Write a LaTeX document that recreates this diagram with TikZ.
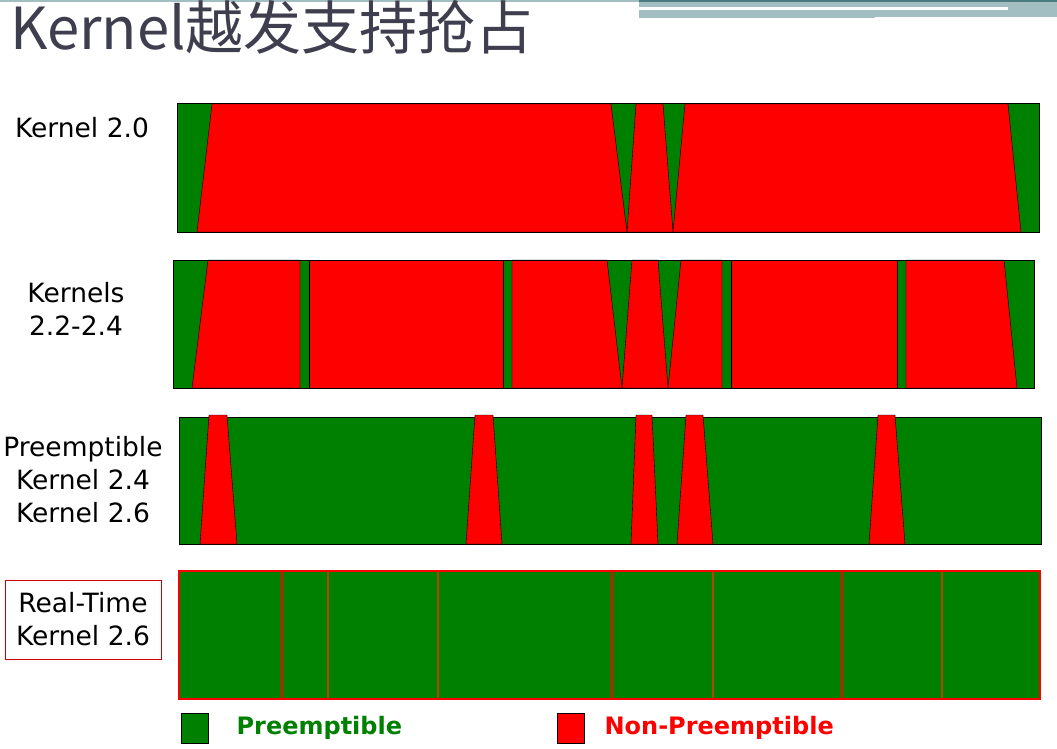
\documentclass[tikz,border=0pt]{standalone}
\usepackage{fontspec}
\setsansfont{DejaVu Sans}
\newfontfamily\cjkfont{Noto Sans CJK SC}
\usetikzlibrary{positioning}

\definecolor{pgreen}{RGB}{0,128,0}
\definecolor{npred}{RGB}{255,0,0}
\definecolor{rtbrown}{RGB}{180,70,0}
\definecolor{boxred}{RGB}{200,0,0}
\definecolor{titlegray}{RGB}{62,62,78}
\definecolor{bandlight}{RGB}{163,190,194}
\definecolor{banddark}{RGB}{74,124,128}

\tikzset{
  bar/.style={fill=pgreen,draw=black,line width=1pt},
  np/.style={fill=npred,draw=black,line width=0.4pt},
  lbl/.style={font=\sffamily\fontsize{26.5}{33}\selectfont,align=center,inner sep=0pt},
  key/.style={draw=black,line width=0.8pt,minimum width=27pt,minimum height=30pt,inner sep=0pt},
  keytext/.style={font=\sffamily\bfseries\fontsize{24}{24}\selectfont,inner sep=0pt}
}

\begin{document}
\begin{tikzpicture}[x=1pt,y=-1pt]
    \useasboundingbox (0,0) rectangle (1057,749);

    % header band top right
    \fill[bandlight] (0,0) rectangle (1057,2);
    \fill[bandlight] (639,0) rectangle (875,18);
    \fill[bandlight] (875,0) rectangle (1057,17);
    \fill[banddark] (639,0) rectangle (1057,2);
    \fill[white] (639,7) rectangle (1008,10);

    % title
    \node[anchor=base west,text=titlegray,inner sep=0pt] (title) at (10,50)
        {\cjkfont\fontsize{58}{58}\selectfont Kernel越发支持抢占};

    % row labels
    \node[lbl] (k20) at (82,128) {Kernel 2.0};
    \node[lbl] (k22) at (76,309) {Kernels\\2.2-2.4};
    \node[lbl] (pk) at (83,480) {Preemptible\\Kernel 2.4\\Kernel 2.6};
    \node[lbl,draw=boxred,line width=0.8pt,minimum width=156pt,minimum height=79pt] (rt) at (83,619.5)
        {Real-Time\\Kernel 2.6};

    % Kernel 2.0
    \draw[bar] (177,104) rectangle (1039,232);
    \filldraw[np] (212,104) -- (611,104) -- (627,232) -- (197,232) -- cycle;
    \filldraw[np] (636,104) -- (663,104) -- (673,232) -- (627,232) -- cycle;
    \filldraw[np] (685,104) -- (1008,104) -- (1021,232) -- (673,232) -- cycle;
    \draw[line width=1pt] (177,104) rectangle (1039,232);

    % Kernels 2.2-2.4
    \draw[bar] (173,260) rectangle (1034,388);
    \filldraw[np] (208,260) -- (300,260) -- (300,388) -- (192,388) -- cycle;
    \filldraw[np] (309,260) rectangle (503,388);
    \filldraw[np] (512,260) -- (607,260) -- (622,388) -- (512,388) -- cycle;
    \filldraw[np] (632,260) -- (658,260) -- (668,388) -- (622,388) -- cycle;
    \filldraw[np] (681,260) -- (722,260) -- (722,388) -- (668,388) -- cycle;
    \filldraw[np] (731,260) rectangle (897,388);
    \filldraw[np] (906,260) -- (1004,260) -- (1017,388) -- (906,388) -- cycle;
    \draw[line width=1pt] (173,260) rectangle (1034,388);

    % Preemptible Kernel 2.4 / 2.6
    \draw[bar] (179,417) rectangle (1041,544);
    \foreach \bl/\tl/\tr/\br in {200/209/227/237, 466/475/493/502, 631/636/652/658,
                                 677/686/703/713, 869/878/895/905}
        \filldraw[np] (\tl,415) -- (\tr,415) -- (\br,544) -- (\bl,544) -- cycle;

    % Real-Time Kernel 2.6
    \fill[pgreen] (179,571) rectangle (1040,699);
    \foreach \x/\c in {282/npred, 328/rtbrown, 438/rtbrown, 612/npred,
                       713/rtbrown, 842/npred, 942/rtbrown}
        \draw[\c,line width=1.2pt] (\x,571) -- (\x,699);
    \draw[npred,line width=1.2pt] (179,571) rectangle (1040,699);

    % legend
    \node[key,fill=pgreen] (keyp) at (194.5,728) {};
    \node[keytext,text=pgreen,right=28pt of keyp] (keyptext) {Preemptible};
    \node[key,fill=npred] (keynp) at (570.5,728) {};
    \node[keytext,text=npred,right=20pt of keynp] (keynptext) {Non-Preemptible};
\end{tikzpicture}
\end{document}
